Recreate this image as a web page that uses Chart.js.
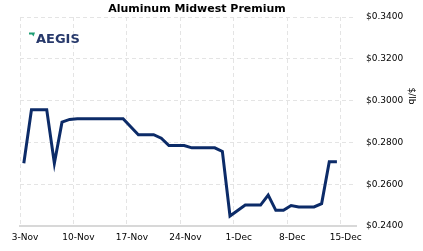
<!DOCTYPE html>
<html>
<head>
<meta charset="utf-8">
<title>Aluminum Midwest Premium</title>
<script src="https://cdn.jsdelivr.net/npm/chart.js@4/dist/chart.umd.min.js"></script>
<style>
    html, body { margin: 0; padding: 0; background: #fff; }
    #wrap { position: relative; width: 423px; height: 251px; }
</style>
</head>
<body>
<div id="wrap"><canvas id="chart"></canvas></div>
<script>
// Daily prices from 3-Nov (day 0), $/lb
const days = [0, 1, 2, 3, 4, 5, 6, 7, 8, 9, 10, 11, 12, 13, 14, 15, 16, 17, 18, 19, 20,
    21, 22, 23, 24, 25, 26, 27, 28, 29, 30, 31, 32, 33, 34, 35, 36, 37, 38, 39, 40, 41];
const prices = [0.2700, 0.2956, 0.2956, 0.2956, 0.2700, 0.2897, 0.2910, 0.2913, 0.2913, 0.2913,
    0.2913, 0.2913, 0.2913, 0.2913, 0.2875, 0.2837, 0.2837, 0.2837, 0.2820, 0.2785,
    0.2785, 0.2785, 0.2774, 0.2774, 0.2774, 0.2774, 0.2757, 0.2448, 0.2474, 0.2500,
    0.2500, 0.2500, 0.2548, 0.2475, 0.2475, 0.2498, 0.2491, 0.2491, 0.2491, 0.2507,
    0.2708, 0.2708];
const xTickLabels = ['3-Nov', '10-Nov', '17-Nov', '24-Nov', '1-Dec', '8-Dec', '15-Dec'];
const yTicks = [0.24, 0.26, 0.28, 0.30, 0.32, 0.34];

const SAMPLE_TIME = 0.5; // prices are stamped at midday
const NAVY = '#0c2b68';
const GRID = '#e4e4e4';

// title, logo and the y axis caption
const overlay = {
    id: 'overlay',
    afterDraw(chart) {
        const ctx = chart.ctx;
        ctx.save();
        ctx.fillStyle = '#000';
        ctx.font = 'bold 11px "DejaVu Sans"';
        ctx.textAlign = 'center';
        ctx.textBaseline = 'middle';
        ctx.fillText('Aluminum Midwest Premium', 197, 9);

        // logo mark
        ctx.fillStyle = '#1e9e74';
        ctx.beginPath();
        ctx.moveTo(29, 32.5);
        ctx.lineTo(35, 32.5);
        ctx.lineTo(33.5, 36.5);
        ctx.lineTo(32, 34.5);
        ctx.lineTo(29, 34.5);
        ctx.closePath();
        ctx.fill();

        ctx.fillStyle = '#27396b';
        ctx.font = 'bold 13px "DejaVu Sans"';
        ctx.textAlign = 'left';
        ctx.textBaseline = 'alphabetic';
        ctx.fillText('AEGIS', 36, 42.5);

        ctx.translate(411, 96);
        ctx.rotate(Math.PI / 2);
        ctx.fillStyle = '#000';
        ctx.font = '9px "DejaVu Sans"';
        ctx.textAlign = 'center';
        ctx.textBaseline = 'middle';
        ctx.fillText('$/lb', 0, 0);
        ctx.restore();
    }
};

new Chart(document.getElementById('chart'), {
    type: 'line',
    data: {
        datasets: [{
            data: days.map((d, i) => ({ x: d + SAMPLE_TIME, y: prices[i] })),
            borderColor: NAVY,
            borderWidth: 3,
            pointRadius: 0,
            tension: 0,
            fill: false
        }]
    },
    options: {
        responsive: true,
        maintainAspectRatio: false,
        animation: false,
        layout: { padding: { left: 20, right: 0, top: 17, bottom: 0 } },
        plugins: {
            legend: { display: false },
            tooltip: { enabled: false }
        },
        scales: {
            x: {
                type: 'linear',
                min: 0,
                max: 44,
                afterFit: scale => { scale.height = 25; },
                border: { display: true, color: '#d8d8d8', width: 2, dash: [4, 3] },
                grid: { color: GRID, drawTicks: false },
                ticks: {
                    stepSize: 7,
                    includeBounds: false,
                    padding: 6,
                    labelOffset: 5,
                    maxRotation: 0,
                    color: '#000',
                    font: { family: 'DejaVu Sans', size: 9 },
                    callback: value => xTickLabels[value / 7]
                }
            },
            y: {
                position: 'right',
                min: yTicks[0],
                max: yTicks[yTicks.length - 1],
                afterFit: scale => { scale.width = 67; },
                afterBuildTicks: scale => { scale.ticks = yTicks.map(v => ({ value: v })); },
                border: { display: false, dash: [4, 3] },
                grid: { color: GRID, drawTicks: false },
                ticks: {
                    padding: 10,
                    color: '#000',
                    font: { family: 'DejaVu Sans', size: 9 },
                    callback: value => '$' + value.toFixed(4)
                }
            }
        }
    },
    plugins: [overlay]
});
</script>
</body>
</html>
